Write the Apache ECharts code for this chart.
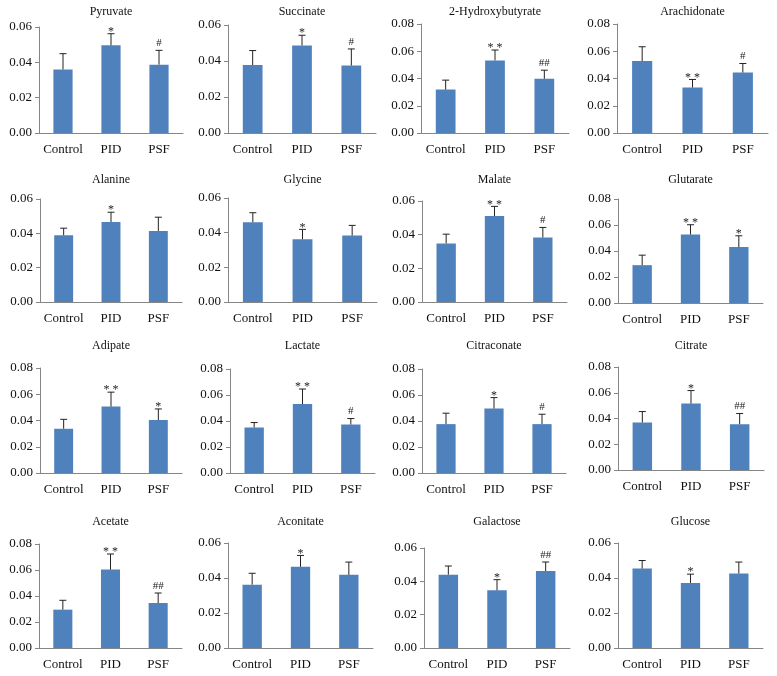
<!DOCTYPE html>
<html>
<head>
<meta charset="utf-8">
<script src="https://cdn.jsdelivr.net/npm/echarts@6/dist/echarts.min.js"></script>
<style>
  html, body { margin: 0; padding: 0; background: #fff; }
  #chart { width: 777px; height: 676px; }
</style>
</head>
<body>
<div id="chart"></div>
<script>
// groups on every x axis
var groups = ['Control', 'PID', 'PSF'];

var metabolites = ['Pyruvate', 'Succinate', '2-Hydroxybutyrate', 'Arachidonate',
    'Alanine', 'Glycine', 'Malate', 'Glutarate',
    'Adipate', 'Lactate', 'Citraconate', 'Citrate',
    'Acetate', 'Aconitate', 'Galactose', 'Glucose'];

// y axis max of each panel
var yMax = [0.06, 0.06, 0.08, 0.08,
    0.06, 0.06, 0.06, 0.08,
    0.08, 0.08, 0.08, 0.08,
    0.08, 0.06, 0.06, 0.06];

// mean values (Control, PID, PSF)
var means = [
    [0.0360, 0.0496, 0.0387],
    [0.0378, 0.0486, 0.0375],
    [0.0319, 0.0533, 0.0398],
    [0.0528, 0.0334, 0.0444],
    [0.0389, 0.0466, 0.0414],
    [0.0460, 0.0362, 0.0383],
    [0.0348, 0.0511, 0.0383],
    [0.0291, 0.0527, 0.0430],
    [0.0337, 0.0506, 0.0404],
    [0.0350, 0.0530, 0.0373],
    [0.0376, 0.0496, 0.0376],
    [0.0369, 0.0516, 0.0356],
    [0.0295, 0.0603, 0.0346],
    [0.0362, 0.0464, 0.0418],
    [0.0440, 0.0346, 0.0462],
    [0.0454, 0.0372, 0.0426]
];

// standard deviations (upper error bar only)
var sds = [
    [0.0089, 0.0066, 0.0081],
    [0.0080, 0.0057, 0.0092],
    [0.0069, 0.0076, 0.0063],
    [0.0105, 0.0059, 0.0066],
    [0.0041, 0.0057, 0.0080],
    [0.0055, 0.0057, 0.0059],
    [0.0055, 0.0057, 0.0060],
    [0.0077, 0.0075, 0.0087],
    [0.0072, 0.0110, 0.0084],
    [0.0038, 0.0116, 0.0046],
    [0.0084, 0.0084, 0.0076],
    [0.0085, 0.0101, 0.0083],
    [0.0072, 0.0120, 0.0077],
    [0.0065, 0.0065, 0.0073],
    [0.0052, 0.0064, 0.0054],
    [0.0046, 0.0050, 0.0065]
];

// significance marks
var marks = [
    ['', '*', '#'], ['', '*', '#'], ['', '**', '##'], ['', '**', '#'],
    ['', '*', ''], ['', '*', ''], ['', '**', '#'], ['', '**', '*'],
    ['', '**', '*'], ['', '**', '#'], ['', '*', '#'], ['', '*', '##'],
    ['', '**', '##'], ['', '*', ''], ['', '*', '##'], ['', '*', '']
];

// plot boxes [left, top, right, bottom] in px
var boxes = [
    [39, 27, 183, 133], [228, 25, 376, 133], [421, 24, 569, 133], [617, 24, 768, 133],
    [40, 199, 182, 302], [228, 198, 377, 302], [422, 201, 567, 302], [618, 199, 763, 303],
    [40, 368, 182, 473], [230, 369, 375, 473], [422, 369, 566, 473], [618, 367, 764, 470],
    [39, 544, 182, 648], [228, 543, 373, 648], [424, 548, 570, 648], [618, 543, 763, 648]
];
var titleY = [13, 181, 347, 523];

var FONT = "'Liberation Serif', 'DejaVu Serif', serif";
var BAR = '#4F81BD';
var AXIS = '#868686';

function renderErr(params, api) {
    var x = api.value(0);
    var m = api.value(1);
    var s = api.value(2);
    var mk = marks[params.seriesIndex / 2 | 0][x];
    var p0 = api.coord([x, m]);
    var p1 = api.coord([x, m + s]);
    var children = [
        { type: 'line', shape: { x1: p0[0], y1: p0[1], x2: p1[0], y2: p1[1] },
          style: { stroke: '#222', lineWidth: 1 } },
        { type: 'line', shape: { x1: p1[0] - 3.5, y1: p1[1], x2: p1[0] + 3.5, y2: p1[1] },
          style: { stroke: '#222', lineWidth: 1 } }
    ];
    if (mk) {
        var isStar = mk.indexOf('*') >= 0;
        children.push({
            type: 'text',
            x: p1[0], y: p1[1] - (isStar ? 2 : 7),
            style: {
                text: isStar ? mk.split('').join(' ') : mk,
                font: (isStar ? '12px ' : '11px ') + FONT,
                fill: '#222',
                align: 'center', verticalAlign: 'middle',
                textAlign: 'center', textVerticalAlign: 'middle'
            }
        });
    }
    return { type: 'group', children: children };
}

var chart = echarts.init(document.getElementById('chart'));
var grids = [], xAxes = [], yAxes = [], series = [], titles = [];

metabolites.forEach(function (name, i) {
    var b = boxes[i];
    grids.push({ left: b[0], top: b[1], width: b[2] - b[0], height: b[3] - b[1], containLabel: false });
    titles.push({
        text: name,
        left: (b[0] + b[2]) / 2,
        top: titleY[i / 4 | 0] - 7,
        textAlign: 'center',
        padding: 0,
        textStyle: { fontFamily: FONT, fontSize: 12, fontWeight: 'normal', color: '#111' }
    });
    xAxes.push({
        gridIndex: i, type: 'category', data: groups,
        axisLine: { lineStyle: { color: AXIS } },
        axisTick: { length: 4, lineStyle: { color: AXIS } },
        axisLabel: { fontFamily: FONT, fontSize: 13, color: '#111', margin: 10, interval: 0 }
    });
    yAxes.push({
        gridIndex: i, type: 'value', min: 0, max: yMax[i], interval: 0.02,
        splitLine: { show: false },
        axisLine: { show: true, lineStyle: { color: AXIS } },
        axisTick: { show: true, length: 4, lineStyle: { color: AXIS } },
        axisLabel: { fontFamily: FONT, fontSize: 13, color: '#111', margin: 7,
            formatter: function (v) { return v.toFixed(2); } }
    });
    series.push({
        type: 'bar', xAxisIndex: i, yAxisIndex: i,
        data: means[i], barWidth: '40%',
        itemStyle: { color: BAR }, silent: true
    });
    series.push({
        type: 'custom', xAxisIndex: i, yAxisIndex: i,
        data: means[i].map(function (m, k) { return [k, m, sds[i][k]]; }),
        renderItem: renderErr, silent: true, z: 5
    });
});

var option = {
    animation: false,
    title: titles,
    grid: grids,
    xAxis: xAxes,
    yAxis: yAxes,
    series: series
};
chart.setOption(option);
</script>
</body>
</html>
